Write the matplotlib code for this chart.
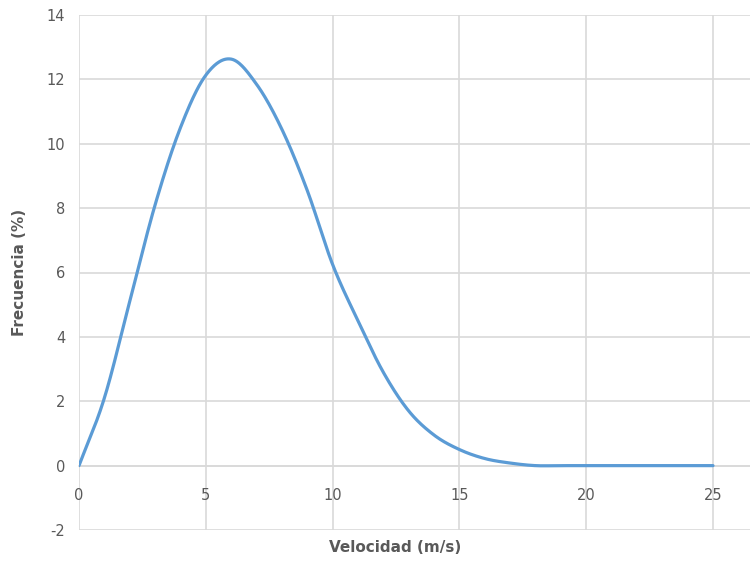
import numpy as np
import matplotlib.pyplot as plt

plt.rcParams['axes.unicode_minus'] = False

# wind speed (m/s) and frequency (%)
velocidad = [0, 1, 2, 3, 4, 5, 6, 7, 8, 9, 10, 11, 12, 13, 14, 15, 16, 17, 18,
             19, 20, 21, 22, 23, 24, 25]
frecuencia = [0.0, 2.1, 5.1, 8.1, 10.5, 12.13, 12.63, 11.85, 10.45, 8.55, 6.25,
              4.5, 2.9, 1.7, 0.95, 0.5, 0.22, 0.08, 0.0,
              0.0, 0.0, 0.0, 0.0, 0.0, 0.0, 0.0]


def smooth(x, y, n=30):
    # Excel-style smoothed line (Catmull-Rom through the points)
    x = np.asarray(x, float)
    y = np.asarray(y, float)
    px = np.concatenate([[2 * x[0] - x[1]], x, [2 * x[-1] - x[-2]]])
    py = np.concatenate([[2 * y[0] - y[1]], y, [2 * y[-1] - y[-2]]])
    t = np.linspace(0, 1, n, endpoint=False)
    xs, ys = [], []
    for i in range(1, len(px) - 2):
        for p, out in ((px, xs), (py, ys)):
            p0, p1, p2, p3 = p[i - 1], p[i], p[i + 1], p[i + 2]
            out.extend(0.5 * (2 * p1 + (-p0 + p2) * t
                              + (2 * p0 - 5 * p1 + 4 * p2 - p3) * t ** 2
                              + (-p0 + 3 * p1 - 3 * p2 + p3) * t ** 3))
    xs.append(x[-1])
    ys.append(y[-1])
    return np.array(xs), np.array(ys)


gray = '#595959'
grid = '#D9D9D9'

fig = plt.figure(figsize=(7.5, 5.61), dpi=100)
ax = fig.add_axes([79 / 750, 1 - 530 / 561, 1 - 79 / 750, (530 - 15) / 561])

sx, sy = smooth(velocidad, frecuencia)
ax.plot(sx, sy, color='#5B9BD5', lw=2.3, solid_capstyle='round', zorder=3)

ax.set_xlim(0, (750 - 79) / 25.36)
ax.set_ylim(-2, 14)
ax.set_xticks(range(0, 30, 5))
ax.set_yticks(range(-2, 15, 2))
ax.grid(True, color=grid, lw=1.2)
ax.set_axisbelow(True)

for side in ('top', 'right', 'left'):
    ax.spines[side].set_visible(False)
ax.spines['bottom'].set_position(('data', 0))
ax.spines['bottom'].set_color(grid)
ax.spines['bottom'].set_linewidth(1.2)
ax.tick_params(length=0, labelsize=10.5, labelcolor=gray)
ax.tick_params(axis='x', pad=16)
ax.tick_params(axis='y', pad=10)

fig.text(395 / 750, 1 - 547 / 561, 'Velocidad (m/s)', ha='center', va='center',
         fontsize=11, fontweight='bold', color=gray)
fig.text(20 / 750, 1 - 272 / 561, 'Frecuencia (%)', ha='center', va='center',
         rotation=90, fontsize=11, fontweight='bold', color=gray)

fig.savefig('out.png', dpi=100)
